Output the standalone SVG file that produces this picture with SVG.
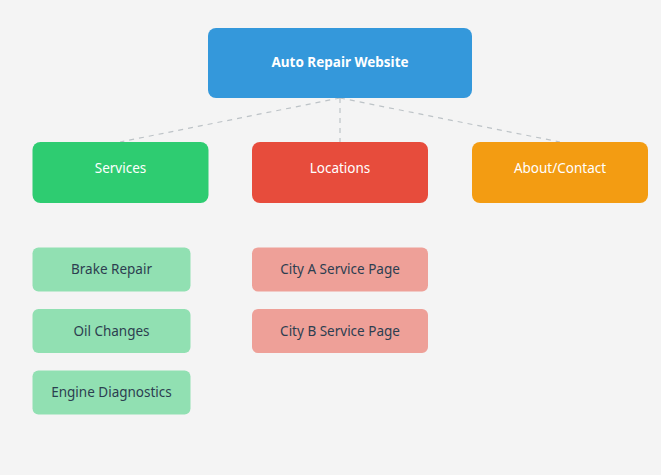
<svg xmlns="http://www.w3.org/2000/svg" width="661" height="475" viewBox="0 0 661 475">
<style>
text{font-family:"Noto Sans","Open Sans","Liberation Sans",sans-serif;font-size:13.5px;text-anchor:middle;dominant-baseline:central}
.w{fill:#ffffff}
.d{fill:#2c3e50}
.b{font-weight:bold}
.conn line{stroke:#bdc3c7;stroke-width:1.2;stroke-dasharray:5,5}
</style>
<rect width="661" height="475" fill="#f4f4f4"/>
<g class="conn">
<line x1="340" y1="98" x2="120" y2="142"/>
<line x1="340" y1="98" x2="340" y2="142"/>
<line x1="340" y1="98" x2="560" y2="142"/>
</g>
<g id="root"><rect x="208" y="28" width="264" height="70" rx="8" fill="#3498db"/><text class="w b" x="340" y="62">Auto Repair Website</text></g>
<g id="services"><rect x="32.5" y="142" width="176" height="61" rx="8" fill="#2ecc71"/><text class="w" x="120.5" y="168">Services</text></g>
<g id="locations"><rect x="252" y="142" width="176" height="61" rx="8" fill="#e74c3c"/><text class="w" x="340" y="168">Locations</text></g>
<g id="about"><rect x="472" y="142" width="176" height="61" rx="8" fill="#f39c12"/><text class="w" x="560" y="168">About/Contact</text></g>
<g id="brake"><rect x="32.5" y="247.5" width="158" height="44" rx="6" fill="#91e0b2"/><text class="d" x="111.5" y="269">Brake Repair</text></g>
<g id="oil"><rect x="32.5" y="309" width="158" height="44" rx="6" fill="#91e0b2"/><text class="d" x="111.5" y="330.5">Oil Changes</text></g>
<g id="engine"><rect x="32.5" y="370.5" width="158" height="44" rx="6" fill="#91e0b2"/><text class="d" x="111.5" y="392">Engine Diagnostics</text></g>
<g id="cityA"><rect x="252" y="247.5" width="176" height="44" rx="6" fill="#eea098"/><text class="d" x="340" y="269">City A Service Page</text></g>
<g id="cityB"><rect x="252" y="309" width="176" height="44" rx="6" fill="#eea098"/><text class="d" x="340" y="330.5">City B Service Page</text></g>
</svg>
